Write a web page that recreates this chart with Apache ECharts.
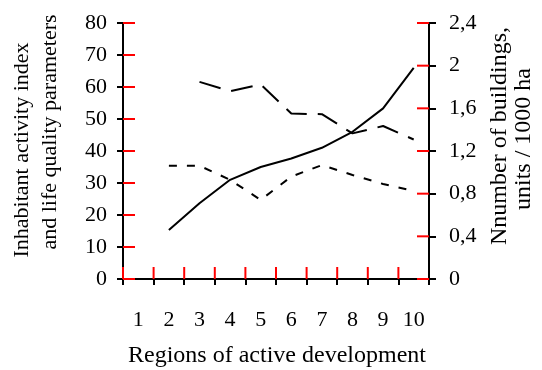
<!DOCTYPE html>
<html>
<head>
<meta charset="utf-8">
<script src="https://cdn.jsdelivr.net/npm/echarts@6/dist/echarts.min.js"></script>
<style>html,body{margin:0;padding:0;background:#fff}#c{width:542px;height:370px}</style>
</head>
<body>
<div id="c"></div>
<script>
var categories = ['1','2','3','4','5','6','7','8','9','10'];
// Number of buildings, units / 1000 ha (right axis) - solid line
var buildings = [null, 0.46, 0.71, 0.93, 1.05, 1.13, 1.23, 1.38, 1.60, 1.98];
// Inhabitant activity index (left axis) - dashed line
var activityIndex = [null, null, 61.6, 58.7, 60.8, 51.7, 51.5, 45.5, 47.8, 43.6];
// Life quality parameters (left axis) - dotted line
var lifeQuality = [null, 35.4, 35.4, 31.0, 24.7, 32.0, 35.6, 32.5, 29.7, 27.5];
var leftTickValues = [0, 10, 20, 30, 40, 50, 60, 70, 80];
var rightTickValues = [0, 0.4, 0.8, 1.2, 1.6, 2.0, 2.4];
var leftTicks = {min: 0, max: 80, interval: 10};
var rightTicks = {min: 0, max: 2.4, interval: 0.4};

var FONT = 'Liberation Serif';
var chart = echarts.init(document.getElementById('c'));
function lineSt(){ return {show: true, lineStyle: {color: '#000', width: 2}}; }
function tick(len){ return {show: true, length: len, lineStyle: {color: '#000', width: 2}}; }
function commaFmt(v){ return String(Math.round(v*10)/10).replace('.', ','); }

var TICK_COLOR = 'red';
function innerTicks(side, yIndex, values){
  return {
    type: 'custom', coordinateSystem: 'cartesian2d', xAxisIndex: 0, yAxisIndex: yIndex, silent: true, z: 5,
    data: values.map(function(v, i){ return side === 'bottom' ? [i, v] : [side === 'left' ? 0 : categories.length - 1, v]; }),
    renderItem: function(params, api){
      var c = api.coord([api.value(0), api.value(1)]);
      var bw = api.size([1, 0])[0];
      var st = {stroke: TICK_COLOR, lineWidth: 2};
      if (side === 'left') {
        var xl = c[0] - bw / 2;
        return {type: 'line', shape: {x1: xl, y1: c[1], x2: xl + 12, y2: c[1]}, style: st};
      } else if (side === 'right') {
        var xr = c[0] + bw / 2;
        return {type: 'line', shape: {x1: xr, y1: c[1], x2: xr - 12, y2: c[1]}, style: st};
      }
      var xb = c[0] - bw / 2;
      return {type: 'line', shape: {x1: xb, y1: c[1], x2: xb, y2: c[1] - 12}, style: st};
    }
  };
}

chart.setOption({
  animation: false,
  backgroundColor: '#fff',
  grid: {left: 123, right: 113, top: 23, bottom: 91},
  xAxis: [{
    type: 'category', data: categories, position: 'bottom',
    axisLine: lineSt(), axisTick: tick(6),
    axisLabel: {color: '#000', fontFamily: FONT, fontSize: 22, margin: 30},
    splitLine: {show: false}
  }],
  yAxis: [{
    type: 'value', position: 'left', min: leftTicks.min, max: leftTicks.max, interval: leftTicks.interval,
    axisLine: lineSt(), axisTick: tick(6),
    axisLabel: {color: '#000', fontFamily: FONT, fontSize: 22, margin: 16},
    splitLine: {show: false}
  }, {
    type: 'value', position: 'right', min: rightTicks.min, max: rightTicks.max, interval: rightTicks.interval,
    axisLine: lineSt(), axisTick: tick(7),
    axisLabel: {color: '#000', fontFamily: FONT, fontSize: 22, margin: 20, formatter: commaFmt},
    splitLine: {show: false}
  }],
  series: [{
    name: 'Number of buildings', type: 'line', xAxisIndex: 0, yAxisIndex: 1, data: buildings,
    symbol: 'none',
    lineStyle: {color: '#000', width: 2, type: 'solid'}
  }, {
    name: 'Inhabitant activity index', type: 'line', xAxisIndex: 0, yAxisIndex: 0, data: activityIndex,
    symbol: 'none',
    lineStyle: {color: '#000', width: 2, type: [22, 11]}
  }, {
    name: 'Life quality parameters', type: 'line', xAxisIndex: 0, yAxisIndex: 0, data: lifeQuality,
    symbol: 'none',
    lineStyle: {color: '#000', width: 2, type: [8, 10]}
  },
    innerTicks('left', 0, leftTickValues),
    innerTicks('right', 1, rightTickValues),
    innerTicks('bottom', 0, categories.map(function(){ return 0; }))
  ],
  graphic: [
    {type: 'text', x: 22, y: 150, rotation: Math.PI/2, style: {text: 'Inhabitant activity index', font: '22px "Liberation Serif"', fill: '#000', align: 'center', verticalAlign: 'middle'}},
    {type: 'text', x: 50, y: 132, rotation: Math.PI/2, style: {text: 'and life quality parameters', font: '22px "Liberation Serif"', fill: '#000', align: 'center', verticalAlign: 'middle'}},
    {type: 'text', x: 500, y: 136, rotation: Math.PI/2, style: {text: 'Nnumber of buildings,', font: '24px "Liberation Serif"', fill: '#000', align: 'center', verticalAlign: 'middle'}},
    {type: 'text', x: 524, y: 139, rotation: Math.PI/2, style: {text: 'units / 1000 ha', font: '24px "Liberation Serif"', fill: '#000', align: 'center', verticalAlign: 'middle'}},
    {type: 'text', x: 277, y: 356, style: {text: 'Regions of active development', font: '24px "Liberation Serif"', fill: '#000', align: 'center', verticalAlign: 'middle'}}
  ]
});
</script>
</body>
</html>
